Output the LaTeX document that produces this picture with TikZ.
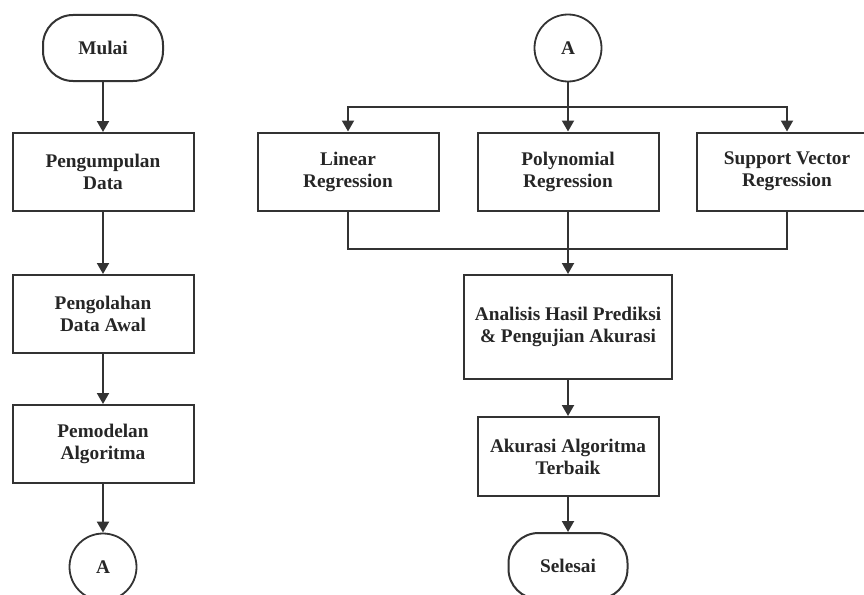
\documentclass[tikz,border=0pt]{standalone}
\usepackage{fontspec}
\setmainfont{Liberation Serif}
\usetikzlibrary{arrows.meta}
\begin{document}
\begin{tikzpicture}[x=1pt,y=-1pt,
  every node/.style={font=\fontsize{19.3}{22}\selectfont\bfseries, align=center, inner sep=0pt, text=black!85},
  proc/.style={draw=black!80, line width=2pt, minimum width=181pt, minimum height=78pt},
  term/.style={draw=black!80, line width=2pt, rounded corners=30pt, minimum width=120pt, minimum height=66pt},
  conn/.style={draw=black!80, circle, line width=1.8pt, minimum size=67pt},
  ln/.style={draw=black!80, line width=2pt},
  arr/.style={draw=black!80, line width=2pt, -{Triangle[length=11pt,width=12pt]}}]
\useasboundingbox (0,0) rectangle (864,594);
\clip (0,0) rectangle (864,594);
% left column
\node[term] (mulai) at (103,48) {Mulai};
\node[proc] (kumpul) at (103,172) {Pengumpulan\\Data};
\node[proc] (olah) at (103,314) {Pengolahan\\Data Awal};
\node[proc] (model) at (103,444) {Pemodelan\\Algoritma};
\node[conn] (aout) at (103,567) {A};
\draw[arr] (mulai) -- (kumpul);
\draw[arr] (kumpul) -- (olah);
\draw[arr] (olah) -- (model);
\draw[arr] (model) -- (aout);
% right part
\node[conn] (ain) at (568,48) {A};
\node[proc] (lin) at (348,171.5) {Linear\\Regression};
\node[proc] (poly) at (568,171.5) {Polynomial\\Regression};
\node[proc] (svr) at (787,171.5) {Support Vector\\Regression};
\node[proc, minimum width=208pt, minimum height=104pt] (ana) at (568,327) {Analisis Hasil Prediksi\\\& Pengujian Akurasi};
\node[proc, minimum height=79pt] (best) at (568,456.5) {Akurasi Algoritma\\Terbaik};
\node[term, minimum width=119pt] (selesai) at (568,566) {Selesai};
\coordinate (split) at (568,107);
\coordinate (merge) at (568,249);
\draw[arr] (ain) -- (poly);
\draw[arr] (split) -| (lin.north);
\draw[arr] (split) -| (svr.north);
\draw[ln] (lin.south) |- (merge) -| (svr.south);
\draw[arr] (poly.south) -- (ana.north);
\draw[arr] (ana) -- (best);
\draw[arr] (best) -- (selesai);
\end{tikzpicture}
\end{document}
